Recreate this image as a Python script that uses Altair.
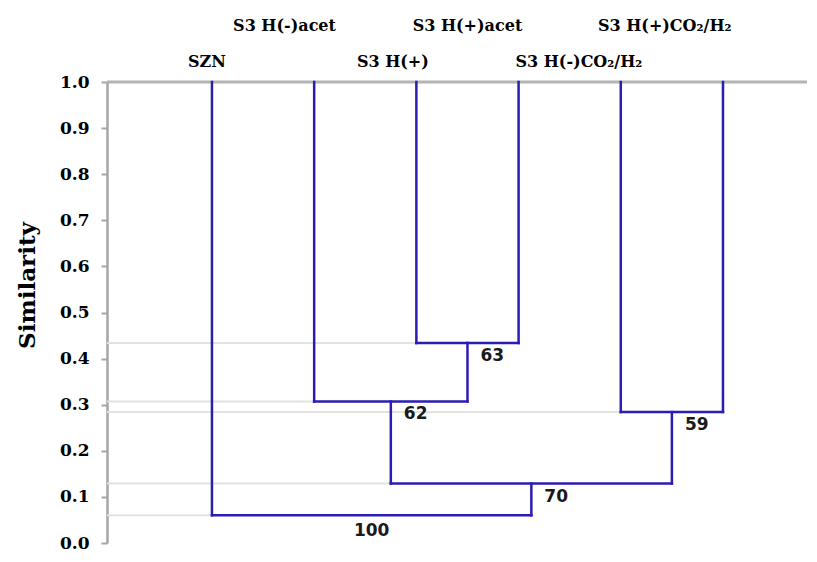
import altair as alt
import pandas as pd

# ---- data ----
leaves = ["SZN", "S3 H(-)acet", "S3 H(+)", "S3 H(+)acet", "S3 H(-)CO₂/H₂", "S3 H(+)CO₂/H₂"]
label_row = ["low", "high", "low", "high", "low", "high"]
label_center = [-0.05, 0.71, 1.77, 2.50, 3.59, 4.43]   # label centres, in leaf units

merge_left = ["S3 H(+)", "S3 H(-)acet", "S3 H(-)CO₂/H₂", "n2", "SZN"]
merge_right = ["S3 H(+)acet", "n1", "S3 H(+)CO₂/H₂", "n3", "n4"]
merge_sim = [0.434, 0.307, 0.284, 0.129, 0.060]
merge_label = ["63", "62", "59", "70", "100"]

y_ticks = [0.0, 0.1, 0.2, 0.3, 0.4, 0.5, 0.6, 0.7, 0.8, 0.9, 1.0]

X_MIN, X_MAX = -1.027, 5.822
BLUE = "#2b1db3"
GRAY = "#e2e2e2"
AXIS_GRAY = "#a6a6a6"

# ---- build the dendrogram geometry from the merge table ----
pos = {name: float(i) for i, name in enumerate(leaves)}
hgt = {name: 1.0 for name in leaves}
blue_rows, gray_rows, node_rows = [], [], []
for k, (l, r, s, lab) in enumerate(zip(merge_left, merge_right, merge_sim, merge_label)):
    name = f"n{k + 1}"
    xl, xr = pos[l], pos[r]
    blue_rows.append(dict(x=xl, x2=xl, y=hgt[l], y2=s))
    blue_rows.append(dict(x=xr, x2=xr, y=hgt[r], y2=s))
    blue_rows.append(dict(x=xl, x2=xr, y=s, y2=s))
    gray_rows.append(dict(x=X_MIN, x2=min(xl, xr), y=s, y2=s))
    pos[name] = (xl + xr) / 2
    hgt[name] = s
    node_rows.append(dict(x=pos[name], y=s, label=lab, root=(k == len(merge_left) - 1)))

blue_df = pd.DataFrame(blue_rows)
gray_df = pd.DataFrame(gray_rows)
node_df = pd.DataFrame(node_rows)
top_df = pd.DataFrame([dict(x=X_MIN, x2=X_MAX, y=1.0, y2=1.0)])
row_y = {"high": 1.1215, "low": 1.043}
leaf_df = pd.DataFrame(dict(name=leaves, x=label_center, y=[row_y[r] for r in label_row]))

xs = alt.Scale(domain=[X_MIN, X_MAX], nice=False, zero=False)
ys = alt.Scale(domain=[0, 1], nice=False, zero=False)

X = lambda: alt.X("x:Q", scale=xs, axis=None)

gray = alt.Chart(gray_df).mark_rule(color=GRAY, strokeWidth=2).encode(
    x=X(), x2="x2:Q",
    y=alt.Y("y:Q", scale=ys, title="Similarity",
            axis=alt.Axis(values=y_ticks, format=".1f", grid=False,
                          titleX=-80, titleY=203, titleAngle=-90,
                          titleAlign="center", titleBaseline="middle")),
)
top = alt.Chart(top_df).mark_rule(color="#b4b4b4", strokeWidth=3).encode(
    x=X(), x2="x2:Q", y=alt.Y("y:Q", scale=ys)
)
blue = alt.Chart(blue_df).mark_rule(color=BLUE, strokeWidth=2.5, strokeCap="square").encode(
    x=X(), x2="x2:Q", y=alt.Y("y:Q", scale=ys), y2="y2:Q"
)
node_lab = alt.Chart(node_df).transform_filter("!datum.root").mark_text(
    align="left", baseline="top", dx=13, dy=5,
    font="DejaVu Sans", fontWeight="bold", fontSize=17, color="#1a1a1a"
).encode(x=X(), y=alt.Y("y:Q", scale=ys), text="label:N")
root_lab = alt.Chart(node_df).transform_filter("datum.root").mark_text(
    align="center", baseline="top", dy=8,
    font="DejaVu Sans", fontWeight="bold", fontSize=17, color="#1a1a1a"
).encode(x=X(), y=alt.Y("y:Q", scale=ys), text="label:N")
leaf_lab = alt.Chart(leaf_df).mark_text(
    align="center", baseline="middle", clip=False,
    font="DejaVu Serif", fontWeight="bold", fontSize=16, color="black"
).encode(x=X(), y=alt.Y("y:Q", scale=ys), text="name:N")

chart = (
    alt.layer(gray, top, blue, node_lab, root_lab, leaf_lab)
    .properties(width=700, height=461,
                autosize=alt.AutoSizeParams(type="none"),
                padding={"left": 99, "top": 74, "right": 2, "bottom": 11})
    .configure_view(stroke=None)
    .configure_axisY(
        domainColor=AXIS_GRAY, domainWidth=2.5,
        tickColor=AXIS_GRAY, tickWidth=2, tickSize=6,
        labelFont="DejaVu Serif", labelFontWeight="bold", labelFontSize=17,
        labelColor="black", labelPadding=12,
        titleFont="DejaVu Serif", titleFontWeight="bold", titleFontSize=23,
        titleColor="black",
    )
)

chart.save("out.html", embed_options={"renderer": "svg", "actions": False})
